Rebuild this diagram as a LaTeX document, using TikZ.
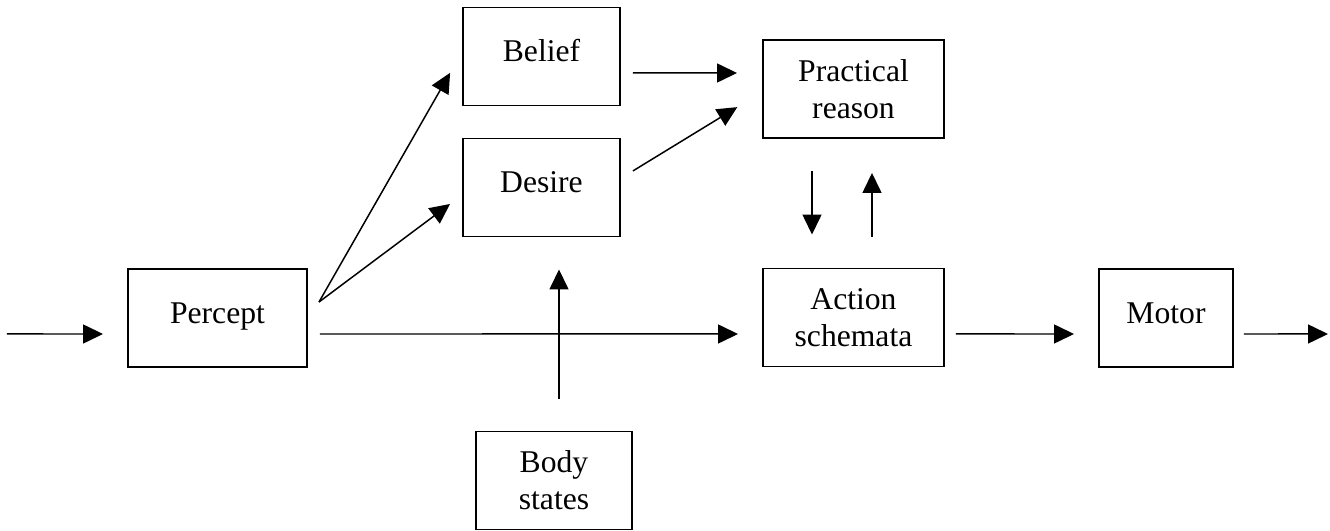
\documentclass[tikz,border=0pt]{standalone}
\usepackage{fontspec}
\setmainfont{Liberation Serif}
\usetikzlibrary{arrows.meta}
\begin{document}
\begin{tikzpicture}[>={Triangle[length=4mm,width=3.8mm]},
	box/.style={draw, line width=1.1pt, minimum height=1.96cm, align=center, font=\fontsize{18}{21}\selectfont},
	one/.style={text height=4.5mm, text depth=2.3mm},
	link/.style={->, line width=0.85pt}]
\useasboundingbox (0,0) rectangle (26.6,10.62);

\node[box, one, minimum width=3.58cm] (percept) at (4.35,4.26) {Percept};
\node[box, one, minimum width=3.14cm] (belief) at (10.83,9.49) {Belief};
\node[box, one, minimum width=3.14cm] (desire) at (10.83,6.87) {Desire};
\node[box, minimum width=3.62cm] (reason) at (17.07,8.84) {Practical\\reason};
\node[box, minimum width=3.62cm] (action) at (17.07,4.27) {Action\\schemata};
\node[box, one, minimum width=2.68cm] (motor) at (23.32,4.26) {Motor};
\node[box, minimum width=3.12cm] (body) at (11.08,1.01) {Body\\states};

\coordinate (in) at (0.14,3.94);
\coordinate (out) at (26.56,3.94);
\coordinate (fork) at (6.38,4.58);

\draw[link, shorten >=4.8mm] (in)--([yshift=-3.2mm]percept.west);
\draw[link, shorten <=2.4mm, shorten >=4.8mm] ([yshift=-3.2mm]percept.east)--([yshift=-3.3mm]action.west);
\draw[link, shorten >=4.8mm] (fork)--([yshift=0.9mm]belief.west);
\draw[link, shorten >=3mm] (fork)--([yshift=-1.5mm]desire.west);
\draw[link, shorten <=2.4mm, shorten >=5mm] ([yshift=-3.3mm]belief.east)--([yshift=3.2mm]reason.west);
\draw[link, shorten <=2.8mm, shorten >=5.8mm] ([yshift=1.85mm]desire.east)--([yshift=-0.6mm]reason.west);
\draw[link, shorten <=6.4mm, shorten >=6.6mm] ([xshift=-8.3mm]reason.south)--([xshift=-8.3mm]action.north);
\draw[link, shorten <=6.2mm, shorten >=6.8mm] ([xshift=3.7mm]action.north)--([xshift=3.7mm]reason.south);
\draw[link, shorten <=6.4mm, shorten >=6.4mm] ([xshift=1mm]body.north)--([xshift=3.5mm]desire.south);
\draw[link, shorten <=2.2mm, shorten >=4.8mm] ([yshift=-3.3mm]action.east)--([yshift=-3.2mm]motor.west);
\draw[link, shorten <=2mm] ([yshift=-3.2mm]motor.east)--(out);
\end{tikzpicture}
\end{document}
